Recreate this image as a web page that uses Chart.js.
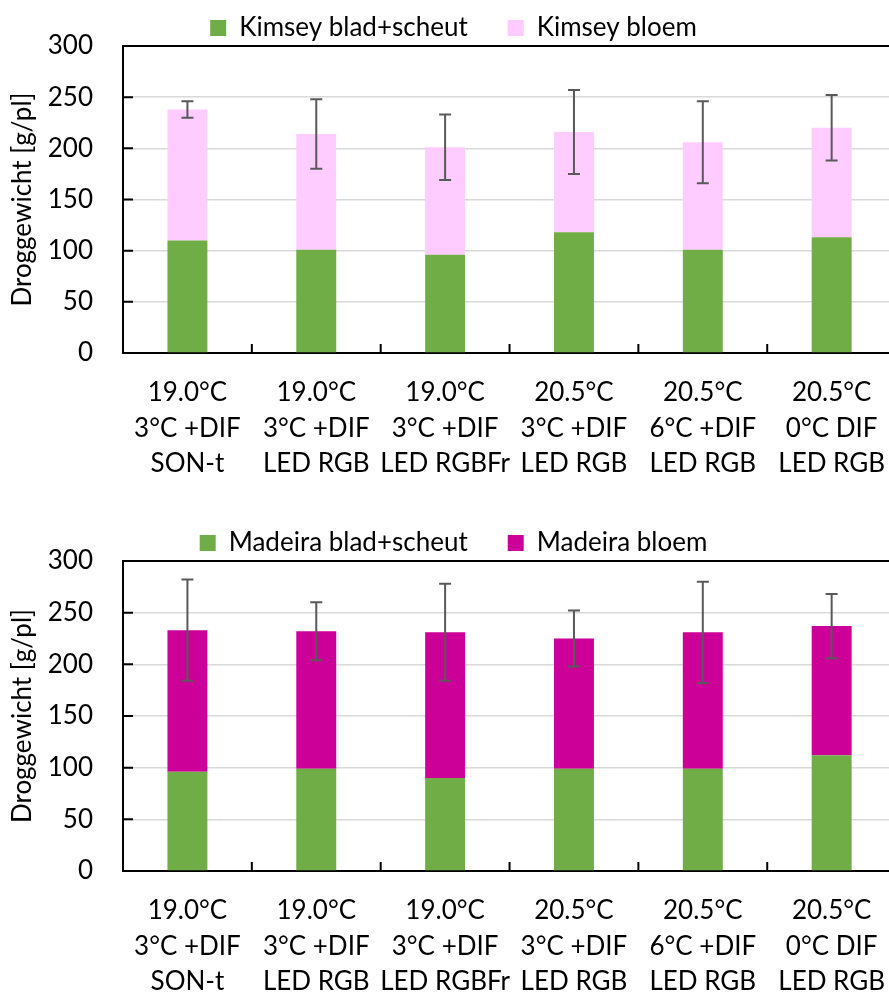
<!DOCTYPE html>
<html>
 <head>
  <title>Droggewicht Kimsey en Madeira</title>
  <style>
  html, body {
   margin: 0;
   padding: 0;
   overflow: hidden;
   background: #fff;
  }
  #chart-kimsey {
   position: absolute;
   left: 0;
   top: 0;
  }
  #chart-madeira {
   position: absolute;
   left: 0;
   top: 515px;
  }
  </style>
 </head>
 <body>
 <script src="https://cdn.jsdelivr.net/npm/chart.js@4"></script>
 <canvas id="chart-kimsey" width="907" height="481"></canvas>
 <canvas id="chart-madeira" width="907" height="484"></canvas>
 <script type="text/javascript">
  // Category labels (three lines each)
  const tempLabels = ['19.0°C', '19.0°C', '19.0°C', '20.5°C', '20.5°C', '20.5°C'];
  const difLabels = ['3°C +DIF', '3°C +DIF', '3°C +DIF', '3°C +DIF', '6°C +DIF', '0°C DIF'];
  const lampLabels = ['SON-t', 'LED RGB', 'LED RGBFr', 'LED RGB', 'LED RGB', 'LED RGB'];

  // Kimsey dry weight [g/pl]
  const kimseyBlad = [110, 101, 96, 118, 101, 113];
  const kimseyBloem = [128, 113, 105, 98, 105, 107];
  const kimseyErr = [8, 34, 32, 41, 40, 32];

  // Madeira dry weight [g/pl]
  const madeiraBlad = [96, 99, 90, 99, 99, 112];
  const madeiraBloem = [137, 133, 141, 126, 132, 125];
  const madeiraErr = [49, 28, 47, 27, 49, 31];

  const yTicks = [0, 50, 100, 150, 200, 250, 300];

  const FONT = "Lato, 'Liberation Sans', sans-serif";
  Chart.defaults.font.family = FONT;
  Chart.defaults.font.size = 26;
  Chart.defaults.color = '#000';

  const labels = tempLabels.map((t, i) => [t, difLabels[i], lampLabels[i]]);

  // Error bars on top of the stacked total
  const errorBars = {
   id: 'errorBars',
   afterDatasetsDraw(chart) {
    const ctx = chart.ctx;
    const y = chart.scales.y;
    const base = chart.data.datasets[0];
    const top = chart.data.datasets[1];
    const meta = chart.getDatasetMeta(1);
    ctx.save();
    ctx.strokeStyle = '#595959';
    ctx.lineWidth = 2;
    meta.data.forEach((bar, i) => {
     const total = base.data[i] + top.data[i];
     const hi = y.getPixelForValue(total + top.errors[i]);
     const lo = y.getPixelForValue(total - top.errors[i]);
     ctx.beginPath();
     ctx.moveTo(bar.x, hi); ctx.lineTo(bar.x, lo);
     ctx.moveTo(bar.x - 6, hi); ctx.lineTo(bar.x + 6, hi);
     ctx.moveTo(bar.x - 6, lo); ctx.lineTo(bar.x + 6, lo);
     ctx.stroke();
    });
    ctx.restore();
   }
  };

  // Tick marks pointing into the plot area
  const innerTicks = {
   id: 'innerTicks',
   afterDatasetsDraw(chart) {
    const {ctx, chartArea: a, scales: {x, y}} = chart;
    ctx.save();
    ctx.strokeStyle = '#000';
    ctx.lineWidth = 2;
    ctx.beginPath();
    y.ticks.forEach((t, i) => {
     const py = y.getPixelForTick(i);
     ctx.moveTo(a.left, py); ctx.lineTo(a.left + 10, py);
    });
    const half = (x.getPixelForTick(1) - x.getPixelForTick(0)) / 2;
    x.ticks.forEach((t, i) => {
     const px = x.getPixelForTick(i) + half;
     ctx.moveTo(px, a.bottom); ctx.lineTo(px, a.bottom - 9);
    });
    ctx.stroke();
    ctx.restore();
   }
  };

  // Legend sits a little lower, close to the plot top
  const legendShift = {
   id: 'legendShift',
   afterLayout(chart) {
    chart.legend.top += 5;
    chart.legend.bottom += 5;
   }
  };

  function makeChart(id, names, blad, bloem, err, bloemColor) {
   return new Chart(document.getElementById(id), {
    type: 'bar',
    data: {
     labels: labels,
     datasets: [{
      label: names[0],
      data: blad,
      backgroundColor: '#70AD47'
     }, {
      label: names[1],
      data: bloem,
      errors: err,
      backgroundColor: bloemColor
     }]
    },
    options: {
     responsive: false,
     animation: false,
     categoryPercentage: 1,
     barPercentage: 0.31,
     layout: {
      padding: {top: -30, bottom: 0, left: 0, right: 0}
     },
     plugins: {
      legend: {
       position: 'top',
       labels: {
        boxWidth: 16,
        boxHeight: 16,
        padding: 40,
        font: {size: 26}
       }
      },
      tooltip: {enabled: false}
     },
     scales: {
      x: {
       stacked: true,
       afterFit: (scale) => { scale.height = 128; },
       grid: {display: false, drawTicks: false},
       border: {color: '#000', width: 2},
       ticks: {
        maxRotation: 0,
        autoSkip: false,
        padding: 22,
        font: {size: 26, lineHeight: 1.365}
       }
      },
      y: {
       stacked: true,
       min: 0,
       max: 300,
       afterFit: (scale) => { scale.width = 123; },
       afterBuildTicks: (scale) => {
        scale.ticks = yTicks.map(v => ({value: v}));
       },
       grid: {
        drawTicks: false,
        color: (c) => c.tick && c.tick.value === 300 ? '#000' : '#d9d9d9',
        lineWidth: (c) => c.tick && c.tick.value === 300 ? 2 : 1.5
       },
       border: {color: '#000', width: 2},
       ticks: {
        padding: 30,
        font: {size: 26}
       },
       title: {
        display: true,
        text: 'Droggewicht [g/pl]',
        font: {size: 26},
        padding: {top: 7, bottom: 10}
       }
      }
     }
    },
    plugins: [errorBars, innerTicks, legendShift]
   });
  }

  makeChart('chart-kimsey', ['Kimsey blad+scheut', 'Kimsey bloem'],
   kimseyBlad, kimseyBloem, kimseyErr, '#FFCCFF');
  makeChart('chart-madeira', ['Madeira blad+scheut', 'Madeira bloem'],
   madeiraBlad, madeiraBloem, madeiraErr, '#CC0099');
 </script>
 </body>
</html>
